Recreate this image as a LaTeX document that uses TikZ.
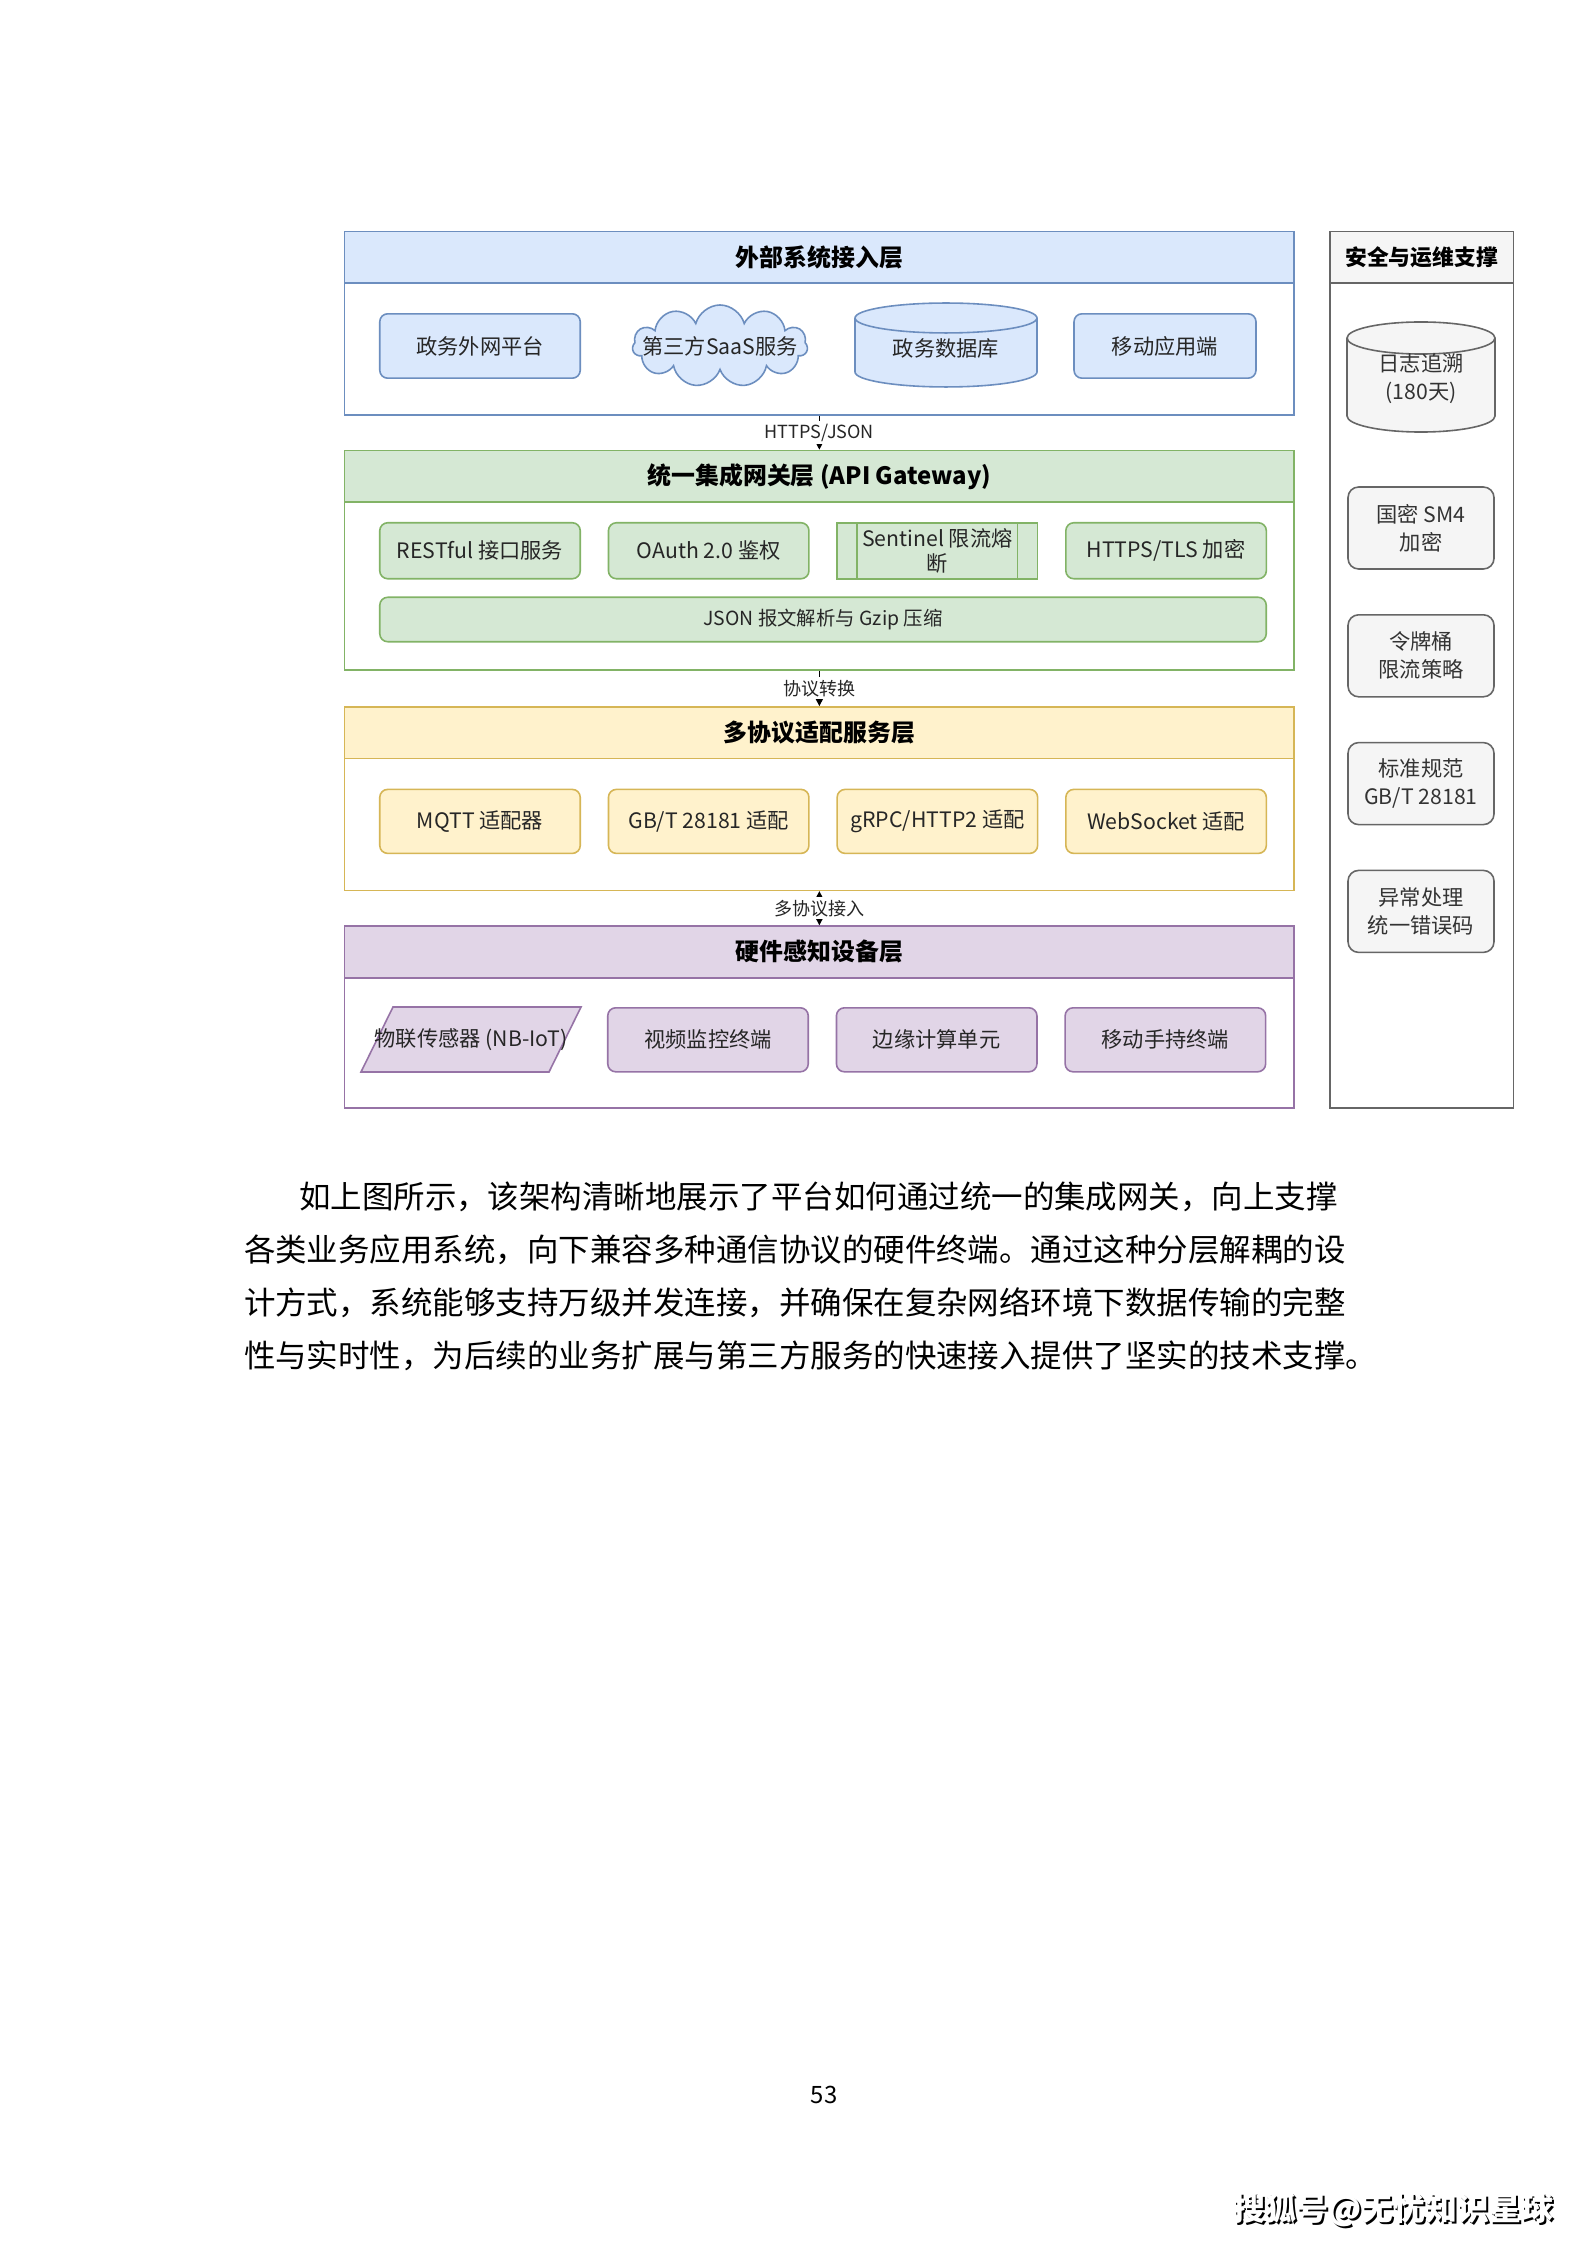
\documentclass[tikz,border=0pt]{standalone}
\usepackage{fontspec}
\setmainfont{Noto Sans CJK SC}
\usetikzlibrary{shapes.geometric,shapes.symbols,shapes.misc,arrows.meta,positioning}
\definecolor{cBlue}{HTML}{6C8EBF}
\definecolor{cBlueF}{HTML}{DAE8FC}
\definecolor{cGreen}{HTML}{82B366}
\definecolor{cGreenF}{HTML}{D5E8D4}
\definecolor{cYel}{HTML}{D6B656}
\definecolor{cYelF}{HTML}{FFF2CC}
\definecolor{cPur}{HTML}{9673A6}
\definecolor{cPurF}{HTML}{E1D5E7}
\definecolor{cGray}{HTML}{666666}
\definecolor{cGrayF}{HTML}{F5F5F5}
\tikzset{
  layer/.style  = {rectangle, draw=#1, fill=white, line width=0.6pt, anchor=north west,
                   minimum width=125.67mm, inner sep=0pt},
  hd/.style     = {rectangle, draw=#1, fill=#1F, line width=0.6pt, anchor=north west,
                   minimum width=125.67mm, minimum height=6.83mm, inner sep=0pt,
                   font=\fontsize{9}{11}\selectfont\bfseries},
  box/.style    = {rectangle, rounded corners=3pt, draw=#1, fill=#1F, line width=0.6pt,
                   align=center, inner sep=1pt, minimum width=26.53mm, minimum height=8.47mm,
                   font=\fontsize{8}{10}\selectfont, text=black!85},
  box/.default  = cBlue,
  ext/.style    = {box=cBlue},
  gwy/.style    = {box=cGreen, minimum height=7.41mm},
  ada/.style    = {box=cYel},
  hw/.style     = {box=cPur},
  proc/.style   = {rectangle, draw=cGreen, fill=cGreenF, line width=0.6pt, align=center,
                   inner sep=1pt, minimum width=26.53mm, minimum height=7.41mm,
                   font=\fontsize{8}{9.5}\selectfont, text=black!85,
                   path picture={\draw[cGreen, line width=0.6pt]
                     ([xshift=2.65mm]path picture bounding box.north west) --
                     ([xshift=2.65mm]path picture bounding box.south west)
                     ([xshift=-2.65mm]path picture bounding box.north east) --
                     ([xshift=-2.65mm]path picture bounding box.south east);}},
  sec/.style    = {rectangle, rounded corners=4pt, draw=cGray, fill=cGrayF, line width=0.6pt,
                   align=center, inner sep=1pt, minimum width=19.32mm, minimum height=10.85mm,
                   font=\fontsize{8}{10.5}\selectfont, text=black!80},
  drum/.style   = {draw=#1, fill=#1F, line width=0.6pt},
  txt/.style    = {align=center, inner sep=0pt, font=\fontsize{8}{10.5}\selectfont, text=black!85},
  fl/.style     = {-{Triangle[length=1.1mm,width=1.1mm]}, draw=black, line width=0.5pt},
  flb/.style    = {{Triangle[length=1.1mm,width=1.1mm]}-{Triangle[length=1.1mm,width=1.1mm]},
                   draw=black, line width=0.5pt},
  lab/.style    = {font=\fontsize{6.8}{8}\selectfont, fill=white, inner sep=1pt, text=black!85},
  para/.style   = {anchor=north west, inner sep=0pt, align=left,
                   font=\fontsize{11.85}{20}\selectfont},
}

\begin{document}
\begin{tikzpicture}[x=0.13233mm, y=-0.13233mm, node distance=3.52mm]
  \fill[white] (0,0) rectangle (1587,2245);
  \useasboundingbox (0,0) rectangle (1587,2245);

  % layers
  \node[layer=cBlue, minimum height=24.26mm] (extl) at (343.7,230.6) {};
  \node[hd=cBlue] (exthd) at (extl.north west) {外部系统接入层};
  \node[layer=cGreen, minimum height=29.01mm] (gwl) at (343.7,449.7) {};
  \node[hd=cGreen] (gwhd) at (gwl.north west) {统一集成网关层 (API Gateway)};
  \node[layer=cYel, minimum height=24.27mm] (adl) at (343.7,706.1) {};
  \node[hd=cYel] (adhd) at (adl.north west) {多协议适配服务层};
  \node[layer=cPur, minimum height=24.07mm] (hwl) at (343.7,925.3) {};
  \node[hd=cPur] (hwhd) at (hwl.north west) {硬件感知设备层};

  % security column
  \node[layer=cGray, minimum width=24.28mm, minimum height=116mm] (secl) at (1329,230.6) {};
  \node[hd=cGray, minimum width=24.28mm, font=\fontsize{8.2}{10}\selectfont\bfseries] (sechd) at (secl.north west) {安全与运维支撑};

  % external systems
  \node[ext, minimum height=8.52mm] (govnet) at (480,346) {政务外网平台};
  \node[cloud, cloud puffs=11, aspect=2.1, draw=cBlue, fill=cBlueF, line width=0.6pt,
        minimum width=23.16mm, minimum height=10.85mm, inner sep=0pt,
        font=\fontsize{8}{10}\selectfont, text=black!85] (saas) at (720,346) {\makebox[0pt]{第三方SaaS服务}};
  \coordinate (govdbc) at (946,345);
  \draw[drum=cBlue] (govdbc) ++(-91,-27) -- ++(0,54)
    arc[start angle=180, end angle=360, x radius=12.04mm, y radius=1.98mm] -- ++(0,-54)
    arc[start angle=0, end angle=180, x radius=12.04mm, y radius=1.98mm] -- cycle;
  \draw[cBlue, line width=0.6pt] (govdbc) ++(-91,-27)
    arc[start angle=180, end angle=360, x radius=12.04mm, y radius=1.98mm];
  \node[txt, font=\fontsize{8}{10}\selectfont] (govdb) at (946,348) {政务数据库};
  \node[ext, minimum width=24.08mm, minimum height=8.52mm] (mobapp) at (1165,346) {移动应用端};

  % gateway
  \node[gwy] (rest) at (480,550.75) {RESTful 接口服务};
  \node[gwy, right=of rest] (oauth) {OAuth 2.0 鉴权};
  \node[proc, right=of oauth] (sentinel) {Sentinel 限流熔\\断};
  \node[gwy, right=of sentinel] (tls) {HTTPS/TLS 加密};
  \node[gwy, minimum width=117.3mm, minimum height=5.88mm, font=\fontsize{7.3}{9}\selectfont] (json) at (823,619.5) {JSON 报文解析与 Gzip 压缩};

  % adapters
  \node[ada] (mqtt) at (480,821.4) {MQTT 适配器};
  \node[ada, right=of mqtt] (gbt) {GB/T 28181 适配};
  \node[ada, right=of gbt] (grpc) {gRPC/HTTP2 适配};
  \node[ada, right=of grpc] (wsock) {WebSocket 适配};

  % hardware
  \coordinate (iotc) at (471,1039.5);
  \draw[drum=cPur] (iotc) ++(-78,-32.5) -- ++(188,0) -- ++(-32,65) -- ++(-188,0) -- cycle;
  \node[txt, font=\fontsize{8}{10}\selectfont] (iot) at (iotc) {物联传感器 (NB-IoT)};
  \node[hw] (video) at (708,1039.8) {视频监控终端};
  \node[hw, right=of video] (edge) {边缘计算单元};
  \node[hw, right=of edge] (handheld) {移动手持终端};

  % security items
  \coordinate (logsc) at (1421,377);
  \draw[drum=cGray] (logsc) ++(-74,-39) -- ++(0,78)
    arc[start angle=180, end angle=360, x radius=9.79mm, y radius=2.12mm] -- ++(0,-78)
    arc[start angle=0, end angle=180, x radius=9.79mm, y radius=2.12mm] -- cycle;
  \draw[cGray, line width=0.6pt] (logsc) ++(-74,-39)
    arc[start angle=180, end angle=360, x radius=9.79mm, y radius=2.12mm];
  \node[txt, text=black!80] (logs) at (1421,379) {日志追溯\\(180天)};
  \node[sec] (sm4) at (1421,528) {国密 SM4\\加密};
  \node[sec, below=5.85mm of sm4] (bucket) {令牌桶\\限流策略};
  \node[sec, below=5.85mm of bucket] (std) {标准规范\\GB/T 28181};
  \node[sec, below=5.85mm of std] (err) {异常处理\\统一错误码};

  % connectors
  \draw[fl] (extl.south) -- (gwl.north) node[midway, lab] {HTTPS/JSON};
  \draw[fl] (gwl.south) -- (adl.north) node[midway, lab] {协议转换};
  \draw[flb] (adl.south) -- (hwl.north) node[midway, lab] {多协议接入};

  % text below
  \node[para] (para) at (243.5,1181) {\hspace*{1.75em}如上图所示，该架构清晰地展示了平台如何通过统一的集成网关，向上支撑\\
各类业务应用系统，向下兼容多种通信协议的硬件终端。通过这种分层解耦的设\\
计方式，系统能够支持万级并发连接，并确保在复杂网络环境下数据传输的完整\\
性与实时性，为后续的业务扩展与第三方服务的快速接入提供了坚实的技术支撑。};
  \node[font=\fontsize{9}{11}\selectfont] (pageno) at (824,2095) {53};
  \node[font=\fontsize{12}{14}\selectfont\bfseries, text=black] (sohus) at (1395,2212) {搜狐号@无忧知识星球};
  \node[font=\fontsize{12}{14}\selectfont\bfseries, text=white] (sohu) at (1393,2210) {搜狐号@无忧知识星球};
\end{tikzpicture}
\end{document}
